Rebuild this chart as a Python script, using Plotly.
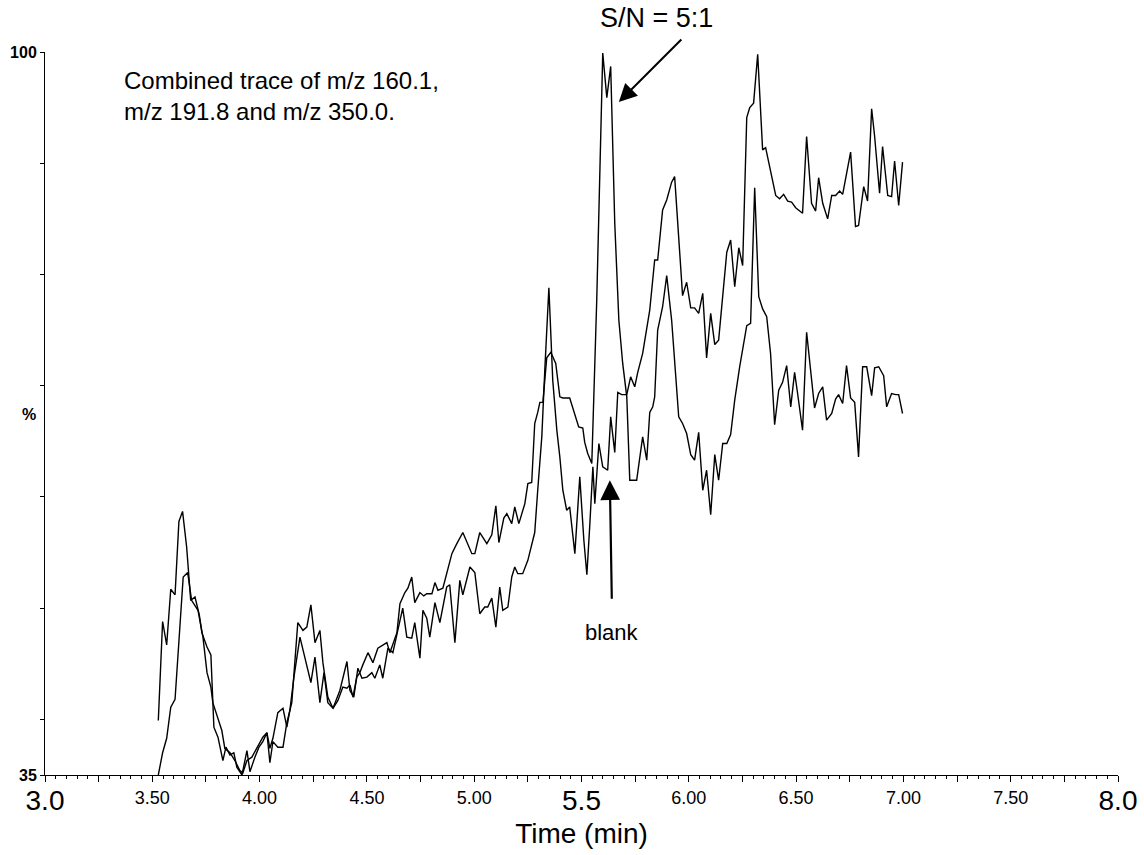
import plotly.graph_objects as go

# Trace P: peaks at 5.60 min (S/N = 5:1), lower trace at the end
p_time = [3.528,3.548,3.567,3.586,3.606,3.624,3.641,3.660,3.679,3.699,3.719,3.731,3.755,3.773,3.787,3.806,3.829,3.843,3.862,3.880,3.894,3.918,3.941,3.955,3.978,3.997,4.015,4.034,4.048,4.062,4.085,4.109,4.127,4.150,4.178,4.202,4.220,4.239,4.258,4.281,4.295,4.318,4.342,4.365,4.388,4.407,4.421,4.435,4.453,4.467,4.481,4.505,4.528,4.551,4.593,4.607,4.640,4.654,4.677,4.691,4.709,4.723,4.747,4.765,4.779,4.803,4.817,4.831,4.854,4.877,4.896,4.919,4.947,4.989,5.003,5.026,5.059,5.082,5.101,5.115,5.138,5.152,5.175,5.189,5.208,5.236,5.250,5.268,5.282,5.296,5.306,5.320,5.338,5.357,5.380,5.399,5.413,5.445,5.469,5.487,5.506,5.515,5.529,5.548,5.571,5.599,5.618,5.636,5.655,5.674,5.692,5.711,5.725,5.757,5.785,5.804,5.818,5.832,5.841,5.855,5.878,5.897,5.920,5.934,5.953,5.971,5.990,6.009,6.027,6.046,6.065,6.083,6.102,6.121,6.139,6.158,6.177,6.195,6.214,6.237,6.270,6.288,6.307,6.326,6.344,6.363,6.381,6.400,6.419,6.437,6.456,6.475,6.493,6.507,6.530,6.549,6.572,6.586,6.605,6.624,6.642,6.666,6.684,6.698,6.717,6.735,6.754,6.773,6.791,6.810,6.829,6.852,6.866,6.885,6.908,6.922,6.945,6.964,6.978,6.996]
p_pct = [39.9,48.8,46.7,51.7,51.2,57.8,58.7,55.5,50.7,51.0,49.4,47.8,46.5,45.8,39.3,38.4,36.3,37.5,36.8,37.0,35.7,35.0,37.2,35.3,36.6,37.5,38.0,38.8,36.1,38.0,37.5,37.5,39.7,41.5,48.7,48.0,48.3,50.3,46.9,48.0,45.1,42.0,41.0,41.7,42.9,42.8,43.1,42.0,43.8,44.2,44.9,46.0,45.1,46.4,46.9,46.0,47.8,50.4,51.4,51.8,52.8,50.5,51.4,51.1,51.3,51.3,52.3,51.6,51.8,53.6,54.9,55.8,56.8,54.9,54.9,56.8,55.8,56.6,59.2,55.9,58.1,58.5,57.6,59.1,57.6,59.4,61.2,61.3,66.6,67.6,68.5,68.5,72.5,73.0,72.0,69.0,68.9,68.9,67.5,66.3,66.2,64.9,63.9,63.0,77.7,99.9,95.9,98.7,84.6,75.9,72.0,69.0,61.5,61.5,65.4,63.3,67.6,68.1,69.0,75.0,77.1,79.9,75.9,72.0,67.2,66.6,65.7,63.8,63.3,65.8,60.6,62.4,58.4,63.8,61.5,64.8,64.8,65.6,68.7,71.7,75.4,75.6,87.8,78.0,76.9,76.2,72.9,66.5,69.6,70.3,71.8,68.1,71.2,69.3,66.0,74.8,70.2,68.0,69.3,69.9,66.9,67.5,68.8,69.2,68.4,71.8,68.9,68.5,63.6,71.7,71.7,69.1,71.6,71.7,70.9,68.1,69.3,69.2,69.2,67.5]

# Trace U: blank trace, upper trace at the end
u_time = [3.528,3.548,3.567,3.586,3.606,3.624,3.644,3.665,3.683,3.713,3.736,3.755,3.773,3.782,3.806,3.824,3.838,3.862,3.885,3.908,3.922,3.941,3.964,3.987,4.015,4.034,4.048,4.062,4.085,4.109,4.127,4.141,4.160,4.188,4.220,4.239,4.258,4.281,4.300,4.318,4.342,4.374,4.407,4.421,4.439,4.458,4.477,4.500,4.523,4.537,4.560,4.574,4.598,4.621,4.644,4.667,4.686,4.709,4.723,4.747,4.761,4.779,4.793,4.817,4.840,4.872,4.886,4.910,4.933,4.947,4.980,5.003,5.026,5.049,5.063,5.082,5.101,5.119,5.133,5.157,5.175,5.189,5.203,5.226,5.250,5.282,5.296,5.315,5.329,5.348,5.366,5.385,5.399,5.413,5.431,5.445,5.469,5.492,5.511,5.525,5.539,5.553,5.562,5.581,5.599,5.622,5.636,5.655,5.669,5.687,5.711,5.729,5.748,5.762,5.785,5.818,5.841,5.855,5.878,5.897,5.920,5.934,5.971,5.990,6.009,6.027,6.046,6.065,6.083,6.102,6.121,6.139,6.177,6.195,6.214,6.233,6.251,6.270,6.284,6.302,6.321,6.344,6.358,6.377,6.405,6.423,6.442,6.461,6.479,6.498,6.530,6.549,6.572,6.591,6.605,6.624,6.647,6.666,6.684,6.703,6.717,6.754,6.777,6.791,6.815,6.833,6.852,6.866,6.889,6.903,6.927,6.945,6.959,6.978,6.996]
u_pct = [35.0,37.0,38.3,41.1,41.8,47.4,52.8,53.2,50.7,49.8,47.4,44.2,42.9,41.5,40.1,39.0,37.4,37.0,36.3,35.4,35.2,36.3,36.6,37.4,38.4,38.8,37.4,38.3,40.6,41.0,39.3,40.8,43.8,47.4,44.7,43.3,45.6,41.5,44.2,41.5,41.0,42.6,45.2,42.6,42.0,44.6,43.7,43.8,44.2,43.7,44.9,43.7,46.4,46.0,48.0,50.0,47.4,47.3,48.7,45.5,49.8,49.1,47.4,50.5,48.7,51.9,52.1,46.9,52.5,51.2,53.7,53.2,49.5,50.1,50.1,50.9,48.3,51.9,49.8,50.1,52.8,53.7,53.1,53.1,54.3,56.8,60.6,65.4,71.4,78.8,70.5,66.0,63.6,60.6,58.8,59.1,54.9,61.8,56.1,53.0,57.6,62.7,59.4,64.8,62.7,62.4,67.2,64.0,69.4,69.2,69.2,70.8,69.9,71.2,72.9,76.8,81.3,81.3,85.8,86.7,88.3,88.8,78.1,79.3,77.0,77.0,76.5,78.3,72.5,76.5,73.7,74.1,82.0,83.1,78.9,82.4,80.8,94.1,95.0,95.4,99.8,91.2,91.4,89.7,87.1,86.8,87.2,86.6,86.5,86.0,85.5,92.4,86.4,85.7,88.7,86.4,85.0,87.1,87.1,87.5,87.2,91.0,84.3,84.4,87.9,86.6,94.9,92.4,87.3,91.5,87.1,87.0,90.2,86.2,90.1]

assert len(p_time) == len(p_pct), (len(p_time), len(p_pct))
assert len(u_time) == len(u_pct), (len(u_time), len(u_pct))

x_major = [3.0,3.25,3.5,3.75,4.0,4.25,4.5,4.75,5.0,5.25,5.5,5.75,6.0,6.25,6.5,6.75,7.0,7.25,7.5,7.75,8.0]
x_small_text = ["","","3.50","","4.00","","4.50","","5.00","","","","6.00","","6.50","","7.00","","7.50","",""]
x_big_vals = [3.0, 5.5, 8.0]
x_big_text = ["3.0", "5.5", "8.0"]
y_ticks = [35, 40, 50, 60, 70, 80, 90, 100]
y_text = ["<b>35</b>", "", "", "", "", "", "", "<b>100</b>"]

FONT = "Liberation Sans, Arial, Helvetica, sans-serif"

fig = go.Figure()
fig.add_trace(go.Scatter(x=u_time, y=u_pct, mode="lines",
                         line=dict(color="black", width=1.4), showlegend=False))
fig.add_trace(go.Scatter(x=p_time, y=p_pct, mode="lines",
                         line=dict(color="black", width=1.4), showlegend=False))
fig.add_trace(go.Scatter(x=[], y=[], xaxis="x2", showlegend=False))

fig.update_layout(
    width=1144, height=855,
    margin=dict(l=45, r=26, t=52, b=80),
    paper_bgcolor="white", plot_bgcolor="white",
    font=dict(family=FONT, color="black"),
    xaxis=dict(range=[3.0, 8.0], tickmode="array", tickvals=x_major, ticktext=x_small_text,
               automargin=False,
               ticks="outside", ticklen=6, tickwidth=1, tickcolor="black",
               tickfont=dict(size=18, family=FONT, color="black"),
               minor=dict(tickmode="linear", tick0=3.0, dtick=0.05, ticks="outside",
                          ticklen=3, tickwidth=1, tickcolor="black"),
               showline=True, linecolor="black", linewidth=1, showgrid=False,
               zeroline=False, title=dict(text="Time (min)", font=dict(size=28, family=FONT),
                                          standoff=16)),
    xaxis2=dict(range=[3.0, 8.0], overlaying="x", side="bottom", anchor="y",
                automargin=False,
                tickmode="array", tickvals=x_big_vals, ticktext=x_big_text,
                ticks="", showline=False, showgrid=False, zeroline=False,
                ticklabelstandoff=6,
                tickfont=dict(size=28, family=FONT, color="black")),
    yaxis=dict(range=[35, 100], tickmode="array", tickvals=y_ticks, ticktext=y_text,
               automargin=False,
               ticks="outside", ticklen=4, tickwidth=1, tickcolor="black",
               tickfont=dict(size=16, family=FONT, color="black"),
               showline=True, linecolor="black", linewidth=1, showgrid=False, zeroline=False),
)

fig.add_annotation(x=-0.015, xref="paper", y=67.4, yref="y", text="<b>%</b>", showarrow=False,
                   font=dict(size=16, family=FONT), xanchor="center", yanchor="middle")
fig.add_annotation(x=3.359, y=98.8, xref="x", yref="y", xanchor="left", yanchor="top",
                   align="left", showarrow=False,
                   text="Combined trace of m/z 160.1,<br>m/z 191.8 and m/z 350.0.",
                   font=dict(size=24, family=FONT))
fig.add_annotation(x=5.85, xref="x", y=1.047, yref="paper", text="S/N = 5:1",
                   showarrow=False, font=dict(size=27, family=FONT),
                   xanchor="center", yanchor="middle")
fig.add_annotation(x=5.674, y=95.5, xref="x", yref="y", text="", showarrow=True,
                   ax=64, ay=-64, arrowhead=2, arrowsize=1.8, arrowwidth=2, arrowcolor="black")
fig.add_annotation(x=5.632, y=61.5, xref="x", yref="y", text="", showarrow=True,
                   ax=2, ay=120, arrowhead=2, arrowsize=1.8, arrowwidth=2.2, arrowcolor="black")
fig.add_annotation(x=5.64, y=47.8, xref="x", yref="y", text="blank", showarrow=False,
                   font=dict(size=22, family=FONT), xanchor="center", yanchor="middle")

fig.write_html("out.html", config={"displayModeBar": False},
               post_script="document.body.style.margin='0';")
